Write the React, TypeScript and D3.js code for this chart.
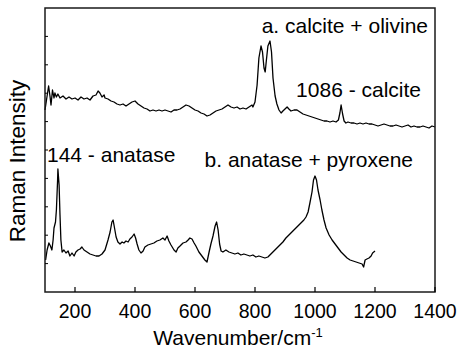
import React from "react";
import * as d3 from "d3";

// Wavenumber (cm-1) and intensity (arbitrary units)
const spectrumA_wn = [100,105,112,117,120,125,130,133,138,143,150,160,170,180,190,200,210,220,230,240,250,260,270,277,283,290,297,300,310,320,330,340,350,360,370,380,390,400,410,420,430,440,450,460,470,480,490,500,510,520,530,540,550,560,570,580,590,600,610,620,630,640,650,660,670,680,690,700,710,720,730,740,750,760,770,780,790,793,800,807,813,820,825,830,834,838,843,850,855,860,867,873,880,887,893,900,907,913,920,930,940,950,960,970,980,990,1000,1010,1020,1030,1040,1050,1060,1070,1078,1083,1087,1092,1097,1103,1110,1120,1130,1140,1150,1160,1170,1180,1190,1200,1210,1220,1230,1240,1250,1260,1270,1280,1290,1300,1310,1320,1330,1340,1350,1360,1370,1380,1390,1400];
const spectrumA_int = [182,192,206,195,187,202,194,199,195,198,194,196,193,195,193,194,192,195,193,194,192,196,197,201,199,195,197,194,193,191,190,188,187,188,186,188,190,191,188,186,184,183,181,182,181,182,181,182,181,180,182,182,183,185,187,186,184,182,181,179,178,176,177,179,181,182,183,185,187,185,184,185,183,184,183,185,187,185,190,207,234,246,240,224,220,232,246,251,240,214,196,188,182,179,181,183,185,183,181,182,182,180,178,177,176,175,174,173,172,171,171,170,171,170,172,179,187,178,171,169,170,169,169,168,169,168,169,168,168,167,166,167,168,167,166,166,167,166,165,166,167,165,166,165,165,166,165,164,166,165];

const spectrumB_wn = [102,107,113,118,123,127,130,135,138,142,143,147,150,153,157,163,170,177,183,190,197,203,210,217,223,230,240,250,260,270,280,290,300,310,317,323,327,330,337,343,350,357,363,370,377,383,390,397,402,407,413,420,427,433,443,453,463,473,483,493,500,507,513,520,530,537,543,550,560,570,577,583,590,597,603,613,623,633,640,647,653,660,667,672,677,682,687,693,703,713,723,733,743,753,763,773,783,793,803,813,823,833,843,853,863,873,883,893,903,913,923,933,943,953,963,970,977,983,990,995,1000,1005,1010,1017,1023,1030,1037,1047,1057,1067,1077,1087,1097,1107,1117,1127,1137,1147,1157,1162,1167,1173,1180,1187,1192,1200];
const spectrumB_int = [32,42,49,46,42,52,64,70,82,112,123,107,77,52,40,42,39,41,36,39,36,40,42,43,45,42,40,38,37,36,36,38,42,52,60,70,72,67,55,50,48,50,49,51,50,53,55,58,54,48,42,39,41,45,47,48,49,51,52,54,52,56,51,47,42,40,44,46,49,50,52,54,53,49,46,40,36,32,30,40,48,56,66,70,62,48,41,40,42,40,39,38,39,37,38,37,36,37,35,36,35,34,35,38,41,44,47,50,54,57,60,63,66,69,72,75,80,89,100,112,116,112,102,92,82,72,64,57,52,48,44,40,37,34,32,31,30,29,28,25,32,33,34,36,39,41];

const xTicks = [200, 400, 600, 800, 1000, 1200, 1400];
const yTickCount = 10;

const labelA = "a. calcite + olivine";
const labelCalcite = "1086 - calcite";
const labelAnatase = "144 - anatase";
const labelB = "b. anatase + pyroxene";
const xTitle = "Wavenumber/cm";
const yTitle = "Raman Intensity";

const W = 458, H = 354;
const L = 45, R = 435, T = 8, B = 292;
const FONT = "'Liberation Sans', Arial, Helvetica, sans-serif";

export default function App() {
  const x = d3.scaleLinear().domain([100, 1400]).range([L, R]);
  const y = d3.scaleLinear().domain([0, 284]).range([B, T]);
  const line = d3.line<[number, number]>().x(d => x(d[0])).y(d => y(d[1]));
  const dataA: [number, number][] = spectrumA_wn.map((w, i) => [w, spectrumA_int[i]]);
  const dataB: [number, number][] = spectrumB_wn.map((w, i) => [w, spectrumB_int[i]]);
  const yTicks = d3.range(1, yTickCount).map(i => T + (B - T) * i / yTickCount);

  return (
    <svg width={W} height={H} style={{ position: "absolute", left: 0, top: 0, background: "#fff" }} fontFamily={FONT}>
      <rect x={0} y={0} width={W} height={H} fill="#fff" />
      <path d={line(dataA) || ""} fill="none" stroke="#000" strokeWidth={1.3} strokeLinejoin="round" />
      <path d={line(dataB) || ""} fill="none" stroke="#000" strokeWidth={1.3} strokeLinejoin="round" />
      <rect x={L} y={T} width={R - L} height={B - T} fill="none" stroke="#1a1a1a" strokeWidth={1.5} />
      {xTicks.map(t => (
        <g key={t}>
          <line x1={x(t)} x2={x(t)} y1={B} y2={B - 5} stroke="#000" strokeWidth={1.2} />
          <text x={x(t)} y={318} textAnchor="middle" fontSize={19.5} fill="#000">{t}</text>
        </g>
      ))}
      {yTicks.map((v, i) => (
        <line key={i} x1={L} x2={L + 3} y1={v} y2={v} stroke="#000" strokeWidth={1} />
      ))}
      <text x={428} y={33} textAnchor="end" fontSize={21} fill="#000">{labelA}</text>
      <text x={421} y={97} textAnchor="end" fontSize={21} fill="#000">{labelCalcite}</text>
      <text x={47} y={162} textAnchor="start" fontSize={21} fill="#000">{labelAnatase}</text>
      <text x={413} y={167} textAnchor="end" fontSize={21} fill="#000">{labelB}</text>
      <text x={(L + R) / 2 - 2} y={345} textAnchor="middle" fontSize={21} fill="#000">
        {xTitle}<tspan fontSize={13} dy={-8}>-1</tspan>
      </text>
      <text transform={`translate(25,${161}) rotate(-90)`} textAnchor="middle" fontSize={22.5} fill="#000">{yTitle}</text>
    </svg>
  );
}
